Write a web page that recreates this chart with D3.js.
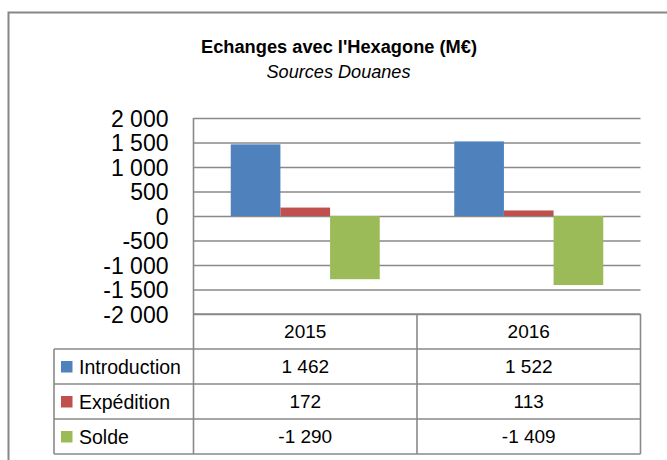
<!DOCTYPE html>
<html>
<head>
<meta charset="utf-8">
<script src="https://cdn.jsdelivr.net/npm/d3@7"></script>
<style>
  html, body { margin: 0; padding: 0; background: #fff; }
  svg { display: block; }
  text { font-family: "Liberation Sans", Arial, sans-serif; fill: #000; }
</style>
</head>
<body>
<svg id="chart" width="667" height="460"></svg>
<script>
// ---- Data ----
const years = ["2015", "2016"];
const seriesNames = ["Introduction", "Expédition", "Solde"];
const seriesColors = ["#4F81BD", "#C0504D", "#9BBB59"];
const introduction = [1462, 1522];
const expedition = [172, 113];
const solde = [-1290, -1409];
const yTicks = [-2000, -1500, -1000, -500, 0, 500, 1000, 1500, 2000];
const titleText = "Echanges avec l'Hexagone (M€)";
const subtitleText = "Sources Douanes";

const seriesValues = [introduction, expedition, solde];

// ---- Layout ----
const svg = d3.select("#chart");
const plotLeft = 193.5, plotRight = 640.5, plotTop = 118, plotBottom = 314;
const tableBottom = 454, tableLeft = 54;
const gridColor = "#898989";

const fmt = v => d3.format(",d")(v).replace(/,/g, " ").replace("−", "-");

svg.append("rect").attr("width", 667).attr("height", 460).attr("fill", "#fff");

// outer chart border
svg.append("rect")
  .attr("x", 8.5).attr("y", 12.5).attr("width", 700).attr("height", 500)
  .attr("fill", "none").attr("stroke", "#878787").attr("stroke-width", 2);

// Title
function fitText(sel, targetWidth) {
  const node = sel.node();
  const base = parseFloat(sel.attr("font-size"));
  const w = node.getComputedTextLength();
  sel.attr("font-size", (base * targetWidth / w).toFixed(2));
}
const title = svg.append("text")
  .attr("x", 339).attr("y", 53).attr("text-anchor", "middle")
  .attr("font-weight", "bold").attr("font-size", 16).text(titleText);
fitText(title, 276);
const sub = svg.append("text")
  .attr("x", 338.5).attr("y", 78).attr("text-anchor", "middle")
  .attr("font-style", "italic").attr("font-size", 16).text(subtitleText);
fitText(sub, 144);

// ---- Scales ----
const y = d3.scaleLinear().domain([-2000, 2000]).range([plotBottom, plotTop]);
const x0 = d3.scaleBand().domain(years).range([plotLeft, plotRight]).paddingInner(0).paddingOuter(0);
const x1 = d3.scaleBand().domain(seriesNames).range([0, x0.bandwidth()]).paddingInner(0).paddingOuter(0.75);

// gridlines
const grid = svg.append("g").attr("transform", `translate(${plotLeft},0)`)
  .call(d3.axisLeft(y).tickValues(yTicks).tickSize(-(plotRight - plotLeft)).tickFormat(""));
grid.select(".domain").remove();
grid.selectAll("line").attr("stroke", gridColor).attr("stroke-width", 1.6);

// y axis labels
const yAxis = svg.append("g").attr("transform", `translate(${plotLeft},0)`)
  .call(d3.axisLeft(y).tickValues(yTicks).tickSize(0).tickPadding(25).tickFormat(fmt));
yAxis.select(".domain").remove();
yAxis.selectAll("text")
  .attr("font-size", 23).attr("font-family", "Liberation Sans, Arial, sans-serif")
  .attr("fill", "#000").attr("dy", "0.36em");

// bars
const barData = [];
seriesNames.forEach((s, si) => {
  years.forEach((yr, yi) => barData.push({ s, si, yr, v: seriesValues[si][yi] }));
});
svg.append("g").selectAll("rect").data(barData).join("rect")
  .attr("x", d => x0(d.yr) + x1(d.s))
  .attr("width", x1.bandwidth())
  .attr("y", d => y(Math.max(0, d.v)))
  .attr("height", d => Math.abs(y(d.v) - y(0)))
  .attr("fill", d => seriesColors[d.si]);

// ---- Data table ----
const rows = d3.scaleBand().domain(["header", ...seriesNames]).range([plotBottom, tableBottom]);
const tbl = svg.append("g").attr("stroke", gridColor).attr("stroke-width", 1.6);
// horizontal lines
tbl.append("line").attr("x1", plotLeft).attr("x2", plotRight)
  .attr("y1", rows("header")).attr("y2", rows("header"));
seriesNames.forEach(s => {
  tbl.append("line").attr("x1", tableLeft).attr("x2", plotRight)
    .attr("y1", rows(s)).attr("y2", rows(s));
});
tbl.append("line").attr("x1", tableLeft).attr("x2", plotRight)
  .attr("y1", tableBottom).attr("y2", tableBottom);
// vertical lines
tbl.append("line").attr("x1", plotLeft).attr("x2", plotLeft).attr("y1", plotTop).attr("y2", tableBottom);
tbl.append("line").attr("x1", tableLeft).attr("x2", tableLeft).attr("y1", rows(seriesNames[0])).attr("y2", tableBottom);
years.forEach(yr => {
  const xe = x0(yr) + x0.bandwidth();
  tbl.append("line").attr("x1", xe).attr("x2", xe).attr("y1", plotBottom).attr("y2", tableBottom);
});

const cellFont = 19;
// header
svg.append("g").selectAll("text").data(years).join("text")
  .attr("x", d => x0(d) + x0.bandwidth() / 2)
  .attr("y", rows("header") + rows.bandwidth() / 2)
  .attr("dy", "0.36em").attr("text-anchor", "middle")
  .attr("font-size", cellFont).text(d => d);

// row labels + legend keys
seriesNames.forEach((s, si) => {
  const cy = rows(s) + rows.bandwidth() / 2;
  svg.append("rect").attr("x", 61).attr("y", cy - 5.5).attr("width", 11.5).attr("height", 11.5)
    .attr("fill", seriesColors[si]);
  svg.append("text").attr("x", 79).attr("y", cy).attr("dy", "0.36em")
    .attr("font-size", 19.5).text(s);
  years.forEach((yr, yi) => {
    svg.append("text")
      .attr("x", x0(yr) + x0.bandwidth() / 2).attr("y", cy).attr("dy", "0.36em")
      .attr("text-anchor", "middle").attr("font-size", cellFont)
      .text(fmt(seriesValues[si][yi]));
  });
});
</script>
</body>
</html>
